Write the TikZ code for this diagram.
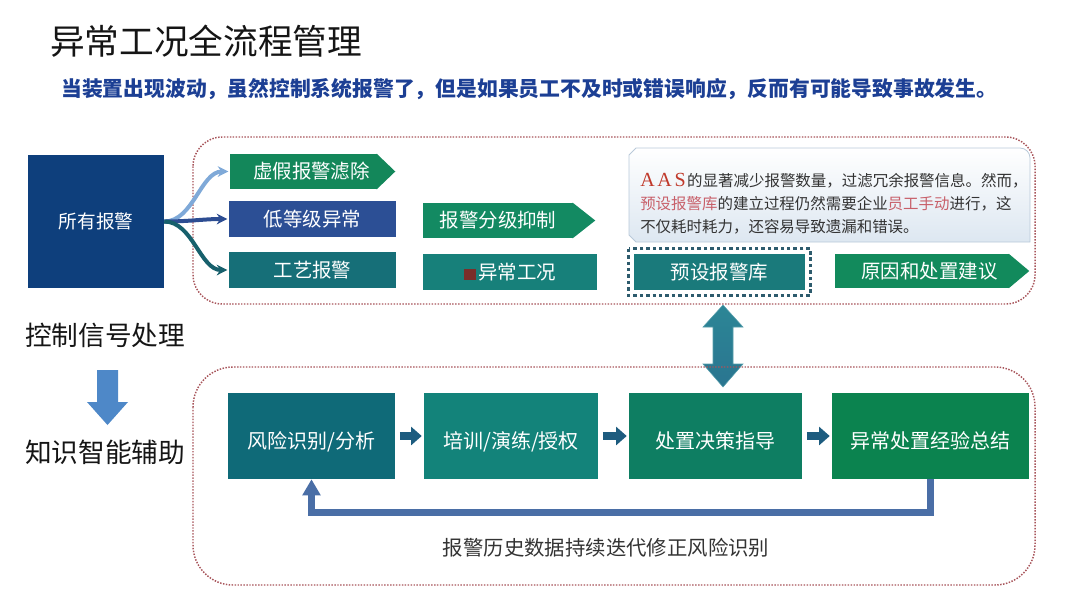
\documentclass[tikz,border=0pt]{standalone}
\usepackage{fontspec}
\setmainfont{Noto Sans CJK SC}
\newfontfamily\cjk{Noto Sans CJK SC}
\newfontfamily\lserif[LetterSpace=14]{Liberation Serif}
\usetikzlibrary{arrows.meta,calc}
\definecolor{titleblk}{HTML}{151515}
\definecolor{subblue}{HTML}{1C3F94}
\definecolor{framered}{HTML}{A8555B}
\definecolor{cAll}{HTML}{0E3F7C}
\definecolor{cFake}{HTML}{13875A}
\definecolor{cLow}{HTML}{2C4F95}
\definecolor{cProc}{HTML}{166F78}
\definecolor{cGrade}{HTML}{138A62}
\definecolor{cAbn}{HTML}{17807A}
\definecolor{cPreset}{HTML}{1A7A7B}
\definecolor{cCause}{HTML}{128A5C}
\definecolor{cRisk}{HTML}{0F6A78}
\definecolor{cTrain}{HTML}{13837A}
\definecolor{cDecide}{HTML}{0E7E62}
\definecolor{cSumm}{HTML}{0B834F}
\definecolor{cTopArr}{HTML}{7FA9D8}
\definecolor{cMidArr}{HTML}{2D4D92}
\definecolor{cBotArr}{HTML}{17606C}
\definecolor{smallarr}{HTML}{1D5C7F}
\definecolor{fbblue}{HTML}{4A6EA6}
\definecolor{downblue}{HTML}{4E88C8}
\definecolor{presetdot}{HTML}{2D5B6D}
\definecolor{calloutline}{HTML}{B9C9D9}
\definecolor{calloutbot}{HTML}{DDE7F1}
\definecolor{hlred}{HTML}{C0392B}
\definecolor{hlpink}{HTML}{C8606A}
\definecolor{bodygray}{HTML}{333333}
\definecolor{blobred}{HTML}{7A2E2A}
\definecolor{dblTop}{HTML}{2C8696}
\definecolor{dblMid}{HTML}{B4D2EA}
\definecolor{dblBot}{HTML}{2A7590}
\newcommand\mytip[3]{\fill[#3] ([xshift=-0.4pt]#1.north east) -- ($(#1.east)+(#2,0)$) -- ([xshift=-0.4pt]#1.south east) -- cycle;}
\begin{document}
\begin{tikzpicture}[x=0.75pt,y=-0.75pt,
  every node/.style={inner sep=0pt},
  sz/.style 2 args={minimum width=#1*0.75pt, minimum height=#2*0.75pt},
  box/.style={fill=#1, text=white, font=\cjk\fontsize{14.6}{17}\selectfont},
  tbox/.style={box=#1, font=\cjk\fontsize{15}{18}\selectfont, text height=19pt, text depth=0pt},
  dotframe/.style={draw=framered, line width=1.1pt, dash pattern=on 1.1pt off 1.1pt},
  curvearr/.style={line width=3pt, draw=#1, -{Stealth[length=8pt,width=8pt]}, shorten >=1pt},
  blockarr/.style={draw=smallarr, line width=6pt, -{Triangle[length=8pt,width=13.5pt]}, shorten <=3.5pt, shorten >=1.5pt},
  sidelabel/.style={text=titleblk, font=\cjk\fontsize{20}{24}\selectfont},
  callouttext/.style={anchor=west, text=bodygray, font=\cjk\fontsize{11.6}{14}\selectfont}
]
\useasboundingbox (0,0) rectangle (1080,608);

% titles
\node[anchor=west, text=titleblk, font=\cjk\fontsize{26}{30}\selectfont] (title) at (50,41) {异常工况全流程管理};
\node[anchor=west, text=subblue, font=\cjk\bfseries\fontsize{15.6}{18}\selectfont] (subtitle) at (61,89) {当装置出现波动，虽然控制系统报警了，但是如果员工不及时或错误响应，反而有可能导致事故发生。};

% left side
\node[sidelabel] (ctrl) at (105,335) {控制信号处理};
\node[sidelabel] (know) at (105,452) {知识智能辅助};
\fill[downblue] (97,370) -- (118,370) -- (118,402) -- (128,402) -- (107.5,425) -- (87,402) -- (97,402) -- cycle;

% double arrow between frames
\shade[top color=dblTop, middle color=dblMid, bottom color=dblBot, draw=dblTop!80, line width=0.4pt]
  (723,305) -- (743,327) -- (733,327) -- (733,364) -- (743,364) -- (723,387) -- (703,364) -- (713,364) -- (713,327) -- (703,327) -- cycle;

% dotted frames
\draw[dotframe, rounded corners=22pt] (193,137) rectangle (1035,304);
\draw[dotframe, rounded corners=30pt] (193,367) rectangle (1035,585);

% top row
\node[box=cAll, font=\cjk\fontsize{14}{17}\selectfont, sz={136}{133}] (all) at (96,221.5) {所有报警};
\node[box=cFake, sz={147}{35}] (fake) at (303.5,171.5) {\hspace{12pt}虚假报警滤除};
\mytip{fake}{18}{cFake}
\node[box=cLow, sz={167}{36}] (low) at (312.5,219) {低等级异常};
\node[box=cProc, sz={167}{36}] (proc) at (312.5,270) {工艺报警};

\draw[curvearr=cTopArr] (all.east) to[out=0,in=180,looseness=0.9] (fake.west);
\draw[curvearr=cMidArr] (all.east) to[out=0,in=180] (low.west);
\draw[curvearr=cBotArr] (all.east) to[out=0,in=180,looseness=0.9] (proc.west);

\node[box=cGrade, sz={150}{35}] (grade) at (498,220.5) {报警分级抑制\hspace{12pt}};
\mytip{grade}{22}{cGrade}
\node[box=cAbn, sz={174}{36}] (abn) at (510,272) {{\color{blobred}\rule[-0.5pt]{9pt}{8pt}}\hspace{1.5pt}异常工况};

% callout
\shade[top color=white, bottom color=calloutbot, draw=calloutline, line width=0.6pt]
  (636,148) -- (1020,148) to[out=0,in=90] (1030,158) -- (1030,242) -- (636,242) -- (629,235) -- (629,155) -- cycle;
\node[callouttext] (line1) at (640,181) {{\lserif\color{hlred}\fontsize{15}{17}\selectfont AAS}\hspace{1pt}的显著减少报警数量，过滤冗余报警信息。然而，};
\node[callouttext] (line2) at (640,204) {{\color{hlpink}预设报警库}的建立过程仍然需要企业{\color{hlpink}员工手动}进行，这};
\node[callouttext] (line3) at (640,227) {不仅耗时耗力，还容易导致遗漏和错误。};

\node[box=cPreset, sz={171}{36}] (preset) at (719.5,272) {预设报警库};
\draw[draw=presetdot, line width=2.6pt, dash pattern=on 2.6pt off 2.2pt]
  ($(preset.north west)+(-5,-5)$) rectangle ($(preset.south east)+(5,5)$);
\node[box=cCause, sz={174}{34}] (cause) at (922,271) {\hspace{11pt}原因和处置建议};
\mytip{cause}{20}{cCause}

% bottom row
\node[tbox=cRisk, sz={167}{86}] (risk) at (311.5,436) {风险识别/分析};
\node[tbox=cTrain, sz={174}{86}] (train) at (511,436) {培训/演练/授权};
\node[tbox=cDecide, sz={173}{86}] (decide) at (715.5,436) {处置决策指导};
\node[tbox=cSumm, sz={197}{86}] (summ) at (930.5,436) {异常处置经验总结};

\draw[blockarr] (risk.east) -- (train.west);
\draw[blockarr] (train.east) -- (decide.west);
\draw[blockarr] (decide.east) -- (summ.west);

\draw[draw=fbblue, line width=5.3pt, -{Triangle[length=12pt,width=13pt]}]
  (summ.south) -- ++(0,33) -| (risk.south);

\node[text=bodygray, font=\cjk\fontsize{15.3}{18}\selectfont] (fblabel) at (606,548) {报警历史数据持续迭代修正风险识别};
\end{tikzpicture}
\end{document}
